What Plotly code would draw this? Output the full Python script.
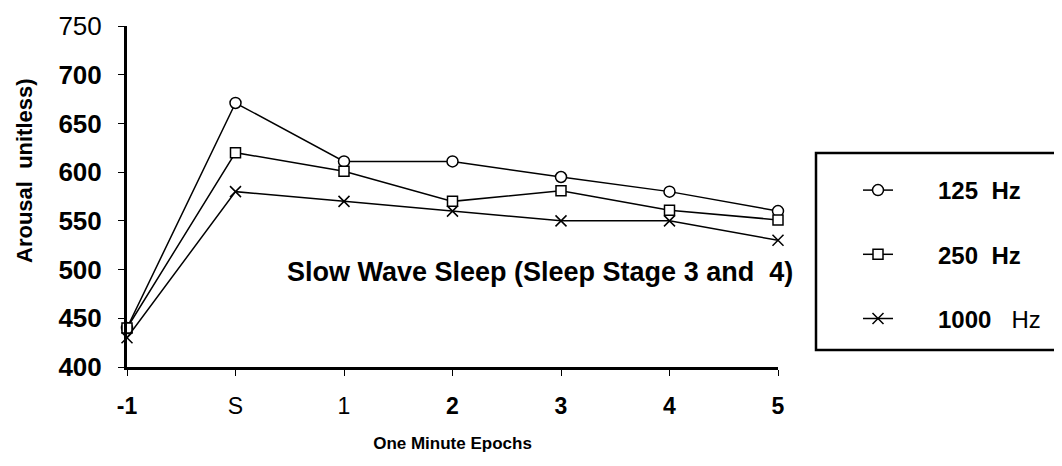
import plotly.graph_objects as go

epochs = ["-1", "S", "1", "2", "3", "4", "5"]
epoch_labels = ["<b>-1</b>", "S", "1", "<b>2</b>", "<b>3</b>", "<b>4</b>", "<b>5</b>"]
hz125 = [440, 671, 611, 611, 595, 580, 560]
hz250 = [440, 620, 601, 570, 581, 561, 551]
hz1000 = [430, 580, 570, 560, 550, 550, 530]
y_ticks = [400, 450, 500, 550, 600, 650, 700, 750]
y_tick_labels = ["<b>400</b>", "<b>450</b>", "<b>500</b>", "<b>550</b>",
                 "<b>600</b>", "<b>650</b>", "<b>700</b>", "750"]
legend_names = ["<b>125  Hz</b>", "<b>250  Hz</b>", "<b>1000</b>   Hz"]

FONT = "Arial, Liberation Sans, sans-serif"
OFF = 8  # page body margin
W, H = 1062 - OFF, 466 - OFF
L, T = 127 - OFF, 26 - OFF
R = W - (778 - OFF)
B = H - (367 - OFF)
pw, ph = W - L - R, H - T - B

def px(x):
    return (x - OFF - L) / pw

def py(y):
    return (H - B - (y - OFF)) / ph

fig = go.Figure()
series = [
    (legend_names[0], hz125, "circle", "white", 11),
    (legend_names[1], hz250, "square", "white", 10),
    (legend_names[2], hz1000, "x-thin-open", "black", 11),
]
pad = "\u00a0" * 6
for i, (name, vals, sym, mcol, sz) in enumerate(series):
    fig.add_trace(go.Scatter(
        x=list(range(len(epochs))), y=vals, name=pad + name, mode="lines+markers",
        line=dict(color="black", width=1.5),
        marker=dict(symbol=sym, size=sz, color=mcol,
                    line=dict(color="black", width=1.5)),
        legendgroup=f"g{i}", cliponaxis=False,
    ))

fig.add_annotation(
    x=px(285), y=py(272), xref="paper", yref="paper", xanchor="left", yanchor="middle",
    text="<b>Slow Wave Sleep (Sleep Stage 3 and  4)</b>", showarrow=False,
    font=dict(size=27, color="black", family=FONT),
)
fig.add_annotation(
    x=px(25), y=py(171), xref="paper", yref="paper", xanchor="center", yanchor="middle",
    text="<b>Arousal  unitless)</b>", textangle=-90, showarrow=False,
    font=dict(size=22, color="black", family=FONT),
)
fig.add_shape(type="rect", xref="paper", yref="paper",
              x0=px(816), x1=px(1075), y0=py(350), y1=py(153),
              line=dict(color="black", width=2.5), fillcolor="rgba(0,0,0,0)")

fig.update_layout(
    width=W, height=H,
    margin=dict(l=L, r=R, t=T, b=B, autoexpand=False),
    paper_bgcolor="white", plot_bgcolor="white",
    font=dict(family=FONT, color="black"),
    showlegend=True,
    legend=dict(x=px(858), y=py(168), xanchor="left", yanchor="top",
                bgcolor="rgba(0,0,0,0)", borderwidth=0,
                font=dict(size=24, family=FONT, color="black"),
                tracegroupgap=30),
    xaxis=dict(
        range=[0, len(epochs) - 1], tickvals=list(range(len(epochs))), ticktext=epoch_labels,
        showgrid=False, zeroline=False, showline=True, linecolor="black", linewidth=3,
        ticks="outside", ticklen=6, tickcolor="black", tickwidth=1, automargin=False,
        ticklabelstandoff=10, tickfont=dict(size=23, family=FONT, color="black"),
        title=dict(text="<b>One Minute Epochs</b>", standoff=20,
                   font=dict(size=17, family=FONT, color="black")),
    ),
    yaxis=dict(
        range=[400, 750], tickvals=y_ticks, ticktext=y_tick_labels,
        showgrid=False, zeroline=False, showline=True, linecolor="black", linewidth=3,
        ticks="outside", ticklen=6, tickcolor="black", tickwidth=1, automargin=False,
        ticklabelstandoff=11, tickfont=dict(size=26, family=FONT, color="black"),
    ),
)

fig.write_html("out.html")
